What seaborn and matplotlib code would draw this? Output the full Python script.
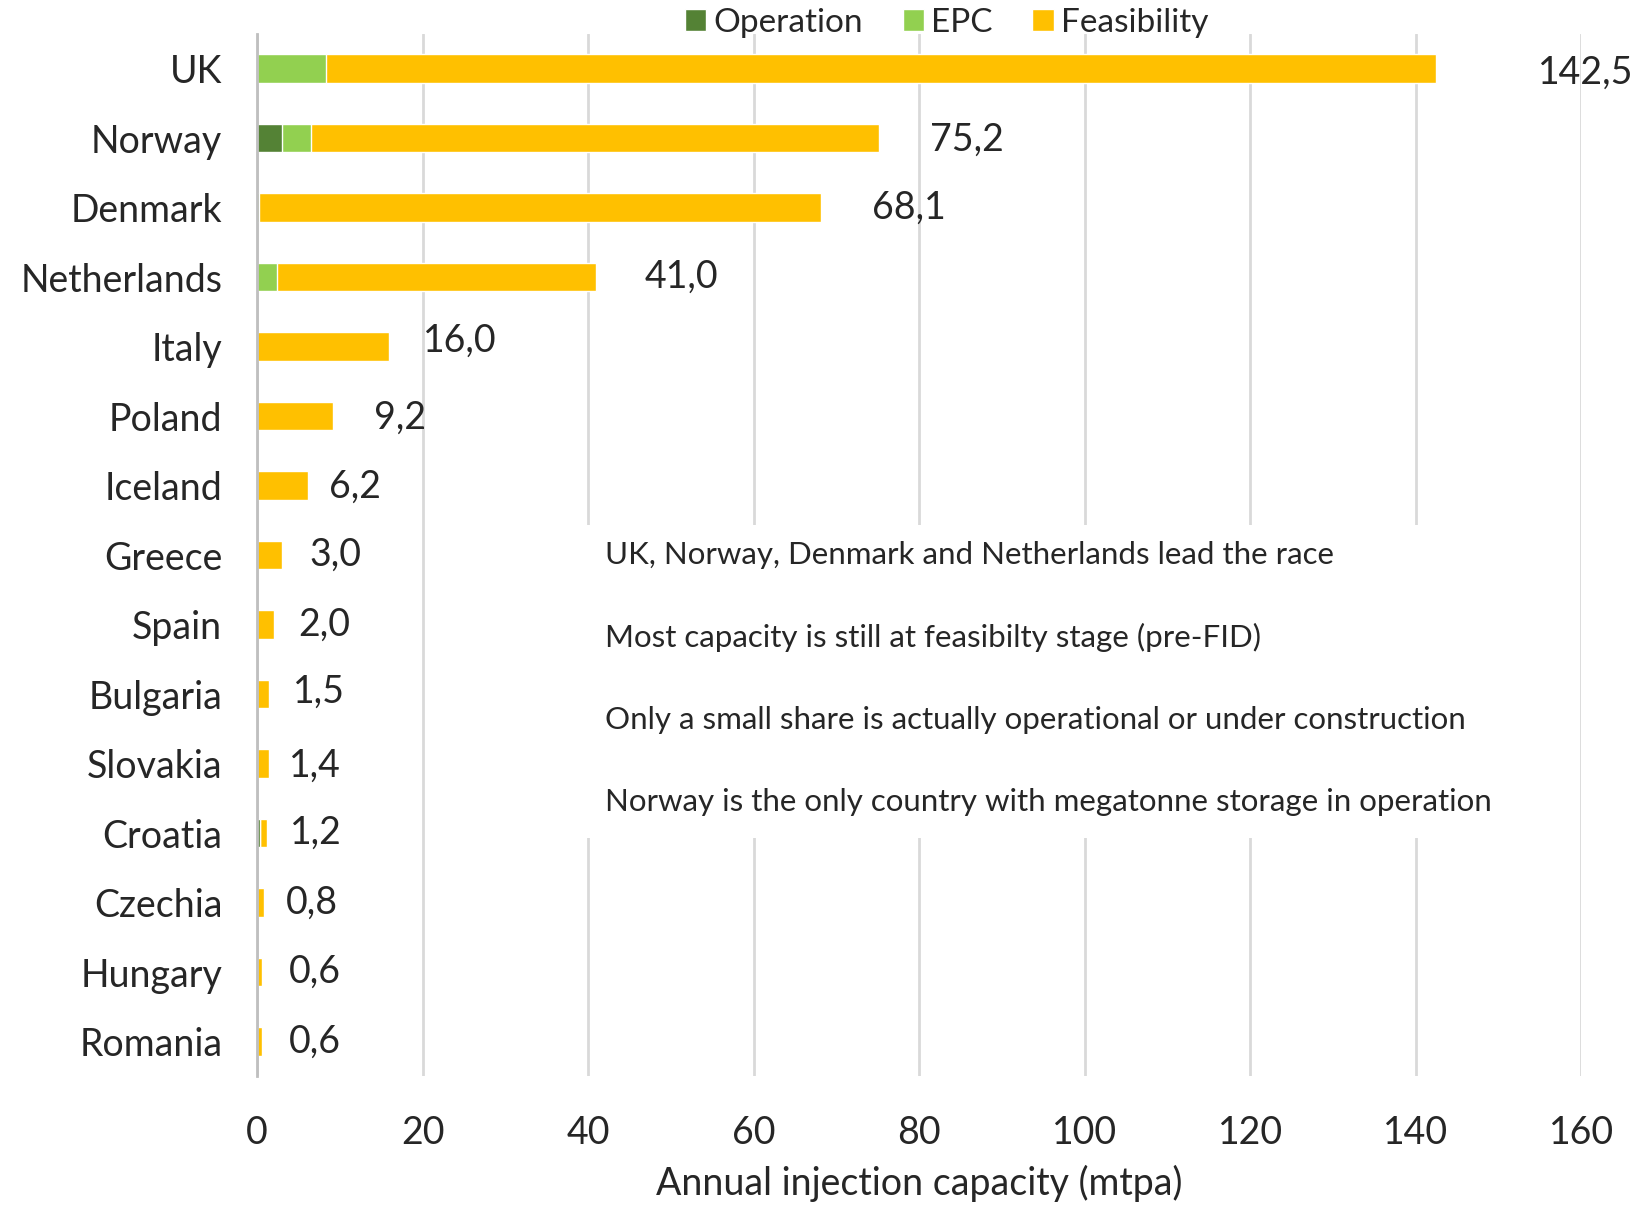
import matplotlib
matplotlib.use("Agg")
import matplotlib.pyplot as plt
import seaborn as sns
import pandas as pd
import numpy as np
from matplotlib.patches import Rectangle

countries = ["UK", "Norway", "Denmark", "Netherlands", "Italy", "Poland", "Iceland",
             "Greece", "Spain", "Bulgaria", "Slovakia", "Croatia", "Czechia", "Hungary", "Romania"]
total = [142.5, 75.2, 68.1, 41.0, 16.0, 9.2, 6.2, 3.0, 2.0, 1.5, 1.4, 1.2, 0.8, 0.6, 0.6]
operation = [0.0, 3.0, 0.0, 0.0, 0.0, 0.0, 0.0, 0.0, 0.0, 0.0, 0.0, 0.3, 0.0, 0.0, 0.0]
epc = [8.3, 3.5, 0.2, 2.4, 0.0, 0.0, 0.0, 0.0, 0.0, 0.0, 0.0, 0.0, 0.0, 0.0, 0.0]
notes = ["UK, Norway, Denmark and Netherlands lead the race",
         "Most capacity is still at feasibilty stage (pre-FID)",
         "Only a small share is actually operational or under construction",
         "Norway is the only country with megatonne storage in operation"]
xticks = [0, 20, 40, 60, 80, 100, 120, 140, 160]

# label placement offsets (style, not data)
label_dx = [12.3, 6.1, 6.2, 5.8, 4.1, 4.9, 2.5, 3.3, 3.0, 2.9, 2.4, 2.8, 2.7, 3.2, 3.2]
label_dy = [0.06, 0.02, 0.0, 0.0, -0.09, 0.02, 0.02, 0.0, 0.0, -0.03, 0.03, 0.0, 0.0, 0.0, 0.01]

df = pd.DataFrame({"country": countries, "total": total,
                   "operation": operation, "epc": epc})
df["op_epc"] = df["operation"] + df["epc"]

sns.set_theme(style="white")
plt.rcParams["font.family"] = ["Lato", "DejaVu Sans"]

C_OP = "#548235"
C_EPC = "#92D050"
C_FEA = "#FFC000"
TXT = "#262626"

fig = plt.figure(figsize=(16.32, 12.09), dpi=100)
ax = fig.add_axes([0.1575, 0.1098, 0.8113, 0.8621])

sns.barplot(data=df, y="country", x="total", color=C_FEA, orient="h",
            width=0.41, ax=ax, saturation=1, label="Feasibility")
sns.barplot(data=df, y="country", x="op_epc", color=C_EPC, orient="h",
            width=0.41, ax=ax, saturation=1, label="EPC")
sns.barplot(data=df, y="country", x="operation", color=C_OP, orient="h",
            width=0.41, ax=ax, saturation=1, label="Operation")
if ax.get_legend() is not None:
    ax.get_legend().remove()

ax.set_xlim(0, 160)
ax.set_ylim(14.5, -0.5)
ax.set_xticks(xticks)
ax.set_xticklabels([str(t) for t in xticks])
ax.xaxis.grid(True, color="#d9d9d9", linewidth=2)
ax.set_axisbelow(True)
for s in ["top", "right", "bottom"]:
    ax.spines[s].set_visible(False)
ax.spines["left"].set_color("#bfbfbf")
ax.spines["left"].set_linewidth(2)
ax.tick_params(axis="both", length=0, labelsize=27, colors=TXT)
ax.tick_params(axis="y", pad=25)
ax.tick_params(axis="x", pad=28)
ax.set_ylabel("")
ax.set_xlabel("Annual injection capacity (mtpa)", fontsize=27, color=TXT, labelpad=10)

for i, v in enumerate(total):
    ax.text(v + label_dx[i], i + label_dy[i], f"{v:.1f}".replace(".", ","),
            va="center", ha="left", fontsize=27, color=TXT)

# annotation box covering the grid
ax.add_patch(Rectangle((39.3, 6.57), 111.0, 4.5, facecolor="white",
                       edgecolor="none", zorder=2))
for k, line in enumerate(notes):
    ax.text(42.0, 7.0 + 1.185 * k, line, va="center", ha="left",
            fontsize=22.5, color=TXT, zorder=3)

handles = [ax.containers[2], ax.containers[1], ax.containers[0]]
labels = ["Operation", "EPC", "Feasibility"]
fig.legend(handles, labels, loc="center", bbox_to_anchor=(0.58, 0.981), ncol=3,
           frameon=False, fontsize=24, handlelength=0.65, handleheight=0.65,
           handletextpad=0.2, columnspacing=1.2, labelcolor=TXT)

fig.savefig("out.png", dpi=100, facecolor="white")
